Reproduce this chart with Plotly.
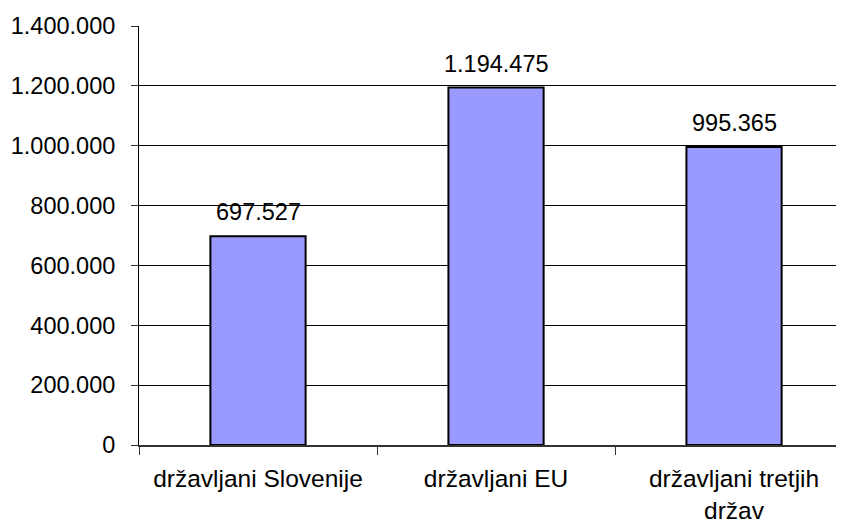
import plotly.graph_objects as go

categories = ["državljani Slovenije", "državljani EU", "državljani tretjih<br>držav"]
values = [697527, 1194475, 995365]
value_labels = ["697.527", "1.194.475", "995.365"]
y_ticks = [0, 200000, 400000, 600000, 800000, 1000000, 1200000, 1400000]

FONT = "Liberation Sans, Arial, sans-serif"
FS = 23.5

xpos = list(range(len(categories)))

fig = go.Figure()
fig.add_trace(go.Bar(
    x=xpos, y=values, width=0.40,
    marker=dict(color="#9999FF", line=dict(color="#000000", width=2)),
    hoverinfo="skip",
))

for xi, v, lab in zip(xpos, values, value_labels):
    fig.add_annotation(x=xi, y=v, text=lab, showarrow=False, yanchor="bottom",
                       yshift=9, font=dict(family=FONT, size=FS, color="#000"))

# page body adds an 8px offset; margins compensate for it
fig.update_layout(
    width=836, height=515,
    margin=dict(l=131, r=0, t=18, b=78, autoexpand=False),
    paper_bgcolor="white", plot_bgcolor="white",
    separators=",.",
    showlegend=False,
    font=dict(family=FONT, size=FS, color="#000"),
    xaxis=dict(
        automargin=False,
        range=[-0.5, 2.462],
        tickmode="array", tickvals=xpos, ticktext=categories,
        tickfont=dict(size=24.5),
        ticks="outside", ticklen=11, tickcolor="rgba(0,0,0,0)",
        showgrid=False, zeroline=False,
        showline=True, linecolor="#333333", linewidth=2,
        minor=dict(tickmode="array", tickvals=[-0.5, 0.5, 1.5], ticks="outside",
                   ticklen=8, tickcolor="#333333", tickwidth=1, showgrid=False),
    ),
    yaxis=dict(
        automargin=False,
        range=[0, 1400000],
        tickmode="array", tickvals=y_ticks, tickformat=",d",
        ticks="outside", ticklen=7, tickcolor="#333333",
        ticklabelstandoff=11,
        showgrid=True, gridcolor="#000000", gridwidth=1,
        zeroline=False,
        showline=True, linecolor="#000000", linewidth=1,
    ),
)

fig.write_html("out.html")
